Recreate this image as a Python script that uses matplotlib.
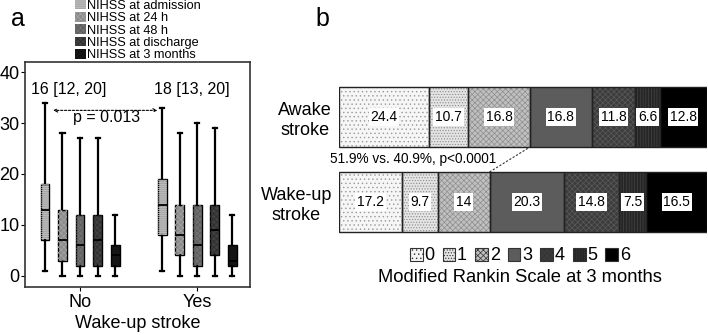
import numpy as np
import matplotlib
matplotlib.use('Agg')
import matplotlib.pyplot as plt
from matplotlib.patches import Patch, PathPatch

plt.rcParams['font.family'] = ['Liberation Sans', 'DejaVu Sans']
plt.rcParams['hatch.linewidth'] = 0.5

# ---- panel a data (NIHSS box stats) ----
groups = ['No', 'Yes']
nihss_labels = ['NIHSS at admission', 'NIHSS at 24 h', 'NIHSS at 48 h',
                'NIHSS at discharge', 'NIHSS at 3 months']
# whislo, q1, median, q3, whishi
stats_no = [[1, 7, 13, 18, 34], [0, 3, 7, 13, 28], [0, 2, 6, 12, 27],
            [0, 2, 7, 12, 27], [0, 2, 4, 6, 12]]
stats_yes = [[1, 8, 14, 19, 33], [0, 4, 8, 14, 28], [0, 2, 6, 14, 30],
             [0, 4, 9, 14, 29], [0, 2, 3, 6, 12]]
median_iqr = ['16 [12, 20]', '18 [13, 20]']
p_nihss = 'p = 0.013'

# ---- panel b data (mRS distribution, %) ----
strokes = ['Awake\nstroke', 'Wake-up\nstroke']
mrs_levels = ['0', '1', '2', '3', '4', '5', '6']
awake = [24.4, 10.7, 16.8, 16.8, 11.8, 6.6, 12.8]
wakeup = [17.2, 9.7, 14, 20.3, 14.8, 7.5, 16.5]
awake_lbl = ['24.4', '10.7', '16.8', '16.8', '11.8', '6.6', '12.8']
wakeup_lbl = ['17.2', '9.7', '14', '20.3', '14.8', '7.5', '16.5']

box_fc = ['#a8a8a8', '#8c8c8c', '#707070', '#404040', '#141414']
box_hc = ['#c4c4c4', '#a6a6a6', '#5a5a5a', '#2c2c2c', '#000000']
box_hatch = ['--------', 'xxxxxx', 'xxxxxx', 'xxxxxx', None]

mrs_fc = ['#f6f6f6', '#e4e4e4', '#c0c0c0', '#5c5c5c', '#3c3c3c', '#262626', '#000000']
mrs_hc = ['#9a9a9a', '#8a8a8a', '#8e8e8e', '#5c5c5c', '#5a5a5a', '#444444', '#000000']
mrs_hatch = ['....', '......', 'xxxxxx', None, 'xxxxxx', '||||||', None]

W, H = 708, 335
fig = plt.figure(figsize=(W / 100., H / 100.), dpi=100)

# ================= panel a =================
ax = fig.add_axes([25. / W, 1 - 287. / H, 225. / W, 225. / H])
offsets = np.array([-0.3, -0.15, 0., 0.15, 0.3])
for gi, st in enumerate([stats_no, stats_yes]):
    bstats = []
    for s in st:
        bstats.append(dict(whislo=s[0], q1=s[1], med=s[2], q3=s[3], whishi=s[4], fliers=[]))
    res = ax.bxp(bstats, positions=gi + 1 + offsets, widths=0.075, patch_artist=True,
                 showfliers=False, manage_ticks=False,
                 boxprops=dict(edgecolor='black', linewidth=1.0),
                 whiskerprops=dict(color='black', linewidth=1.6),
                 capprops=dict(color='black', linewidth=1.6),
                 medianprops=dict(color='black', linewidth=1.3),
                 capwidths=0.035)
    for k, b in enumerate(res['boxes']):
        b.set_facecolor(box_fc[k])
        b.set_zorder(2)
        if box_hatch[k]:
            ax.add_patch(PathPatch(b.get_path(), facecolor='none', edgecolor=box_hc[k],
                                   hatch=box_hatch[k], lw=0, zorder=2.1))
    for m in res['medians']:
        m.set_zorder(3)

ax.set_xlim(0.53, 2.45)
ax.set_ylim(-2.2, 42)
ax.set_xticks([1, 2])
ax.set_xticklabels(groups, fontsize=13)
ax.set_yticks([0, 10, 20, 30, 40])
ax.tick_params(axis='y', labelsize=13, length=3, pad=1)
ax.tick_params(axis='x', length=3, pad=2)
ax.set_xlabel('Wake-up stroke', fontsize=13, labelpad=3)
for s in ax.spines.values():
    s.set_linewidth(1.2)
    s.set_color('#333333')

ax.text(0.9, 36.5, median_iqr[0], fontsize=11.5, ha='center', va='center')
ax.text(1.95, 36.5, median_iqr[1], fontsize=11.5, ha='center', va='center')
ax.annotate('', xy=(0.77, 32.5), xytext=(1.66, 32.5),
            arrowprops=dict(arrowstyle='<->', linestyle=(0, (2, 1.5)), lw=0.8,
                            color='black', mutation_scale=6, shrinkA=0, shrinkB=0))
ax.text(1.23, 31.0, p_nihss, fontsize=11.5, ha='center', va='center')

handles = [Patch(facecolor=box_fc[k], edgecolor=box_hc[k], hatch=box_hatch[k], lw=0)
           for k in range(len(nihss_labels))]
fig.legend(handles, nihss_labels, loc='upper left', bbox_to_anchor=(74. / W, 1.005),
           frameon=False, fontsize=9.2, handlelength=0.8, handleheight=0.8,
           handletextpad=0.1, labelspacing=0.0, borderpad=0.1, borderaxespad=0)

fig.text(18. / W, 1 - 19. / H, 'a', fontsize=18, ha='center', va='center')
fig.text(322. / W, 1 - 19. / H, 'b', fontsize=18, ha='center', va='center')

# ================= panel b =================
bx = fig.add_axes([339. / W, 1 - 240. / H, 368. / W, 160. / H])
bar_h = 0.706
for ri, (vals, lbls) in enumerate([(awake, awake_lbl), (wakeup, wakeup_lbl)]):
    left = np.concatenate([[0], np.cumsum(vals)[:-1]])
    for k in range(len(vals)):
        bx.barh(ri, vals[k], left=left[k], height=bar_h, color=mrs_fc[k], lw=0, zorder=1)
        if mrs_hatch[k]:
            bx.barh(ri, vals[k], left=left[k], height=bar_h, facecolor='none',
                    edgecolor=mrs_hc[k], hatch=mrs_hatch[k], lw=0, zorder=1.5)
        bx.barh(ri, vals[k], left=left[k], height=bar_h, fill=False,
                edgecolor='#222222', lw=1.0, zorder=2)
        bx.text(left[k] + vals[k] / 2., ri, lbls[k], fontsize=10, ha='center', va='center',
                zorder=3, bbox=dict(facecolor='white', edgecolor='none', pad=1.2))

bx.set_xlim(0, 100)
bx.set_ylim(1.447, -0.435)
bx.set_yticks([0, 1])
bx.set_yticklabels(strokes, fontsize=13, multialignment='center')
bx.tick_params(axis='y', length=0, pad=5)
bx.set_xticks([])
for s in bx.spines.values():
    s.set_visible(False)

# dashed link between cumulative mRS 0-2 boundaries
cum_awake = sum(awake[:3])
cum_wake = sum(wakeup[:3])
bx.plot([cum_wake, cum_awake], [1 - bar_h / 2., 0 + bar_h / 2.], ls=(0, (2, 1.5)),
        color='#333333', lw=0.8, zorder=3)
bx.text(20.2, 0.49, '%.1f%% vs. %.1f%%, p<0.0001' % (cum_awake, cum_wake), fontsize=9.8,
        ha='center', va='center', zorder=4, clip_on=False)

mrs_handles = [Patch(facecolor=mrs_fc[k], edgecolor='#333333', hatch=mrs_hatch[k], lw=0.8)
               for k in range(len(mrs_levels))]
fig.legend(mrs_handles, mrs_levels, loc='center', bbox_to_anchor=(520. / W, 1 - 256. / H),
           ncol=7, frameon=False, fontsize=13, handlelength=0.7, handleheight=0.7,
           handletextpad=0.1, columnspacing=0.45, borderpad=0.1)
fig.text(520. / W, 1 - 278. / H, 'Modified Rankin Scale at 3 months', fontsize=13.2,
         ha='center', va='center')

fig.savefig('out.png', dpi=100)
